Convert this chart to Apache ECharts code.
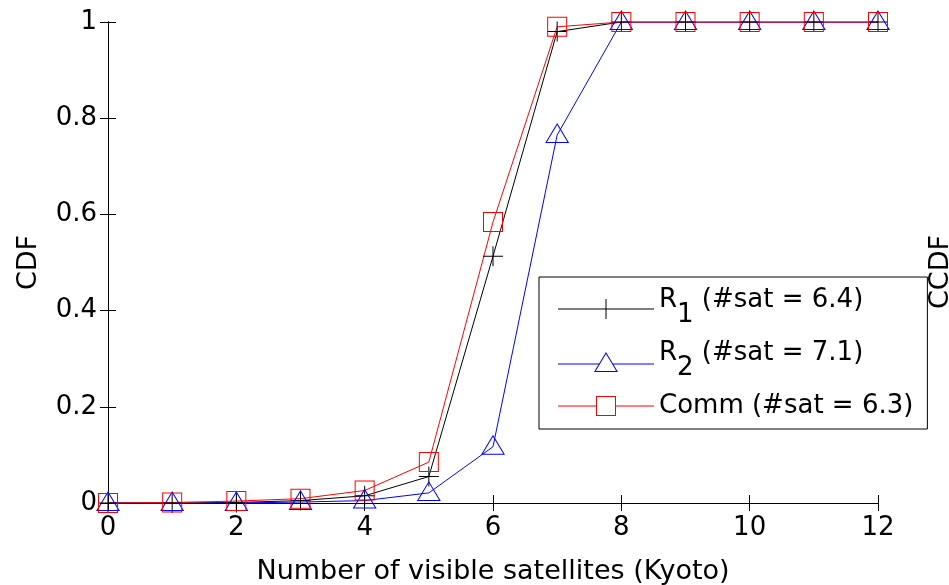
<!DOCTYPE html>
<html>
<head>
<meta charset="utf-8">
<script src="https://cdn.jsdelivr.net/npm/echarts@6/dist/echarts.min.js"></script>
<style>
    html, body { margin: 0; padding: 0; background: #fff; }
    #cdf-chart { width: 949px; height: 585px; }
</style>
</head>
<body>
<div id="cdf-chart"></div>
<script>
// number of visible satellites
var satCounts = [0, 1, 2, 3, 4, 5, 6, 7, 8, 9, 10, 11, 12];
var r1Cdf = [0, 0, 0.001, 0.005, 0.015, 0.055, 0.513, 0.98, 1, 1, 1, 1, 1];
var r2Cdf = [0, 0, 0, 0.002, 0.005, 0.021, 0.117, 0.765, 1, 1, 1, 1, 1];
var commCdf = [0, 0.001, 0.004, 0.009, 0.026, 0.085, 0.584, 0.99, 1, 1, 1, 1, 1];
var seriesBase = ['R', 'R', 'Comm'];
var seriesSub = ['1', '2', ''];
var avgSat = ['6.4', '7.1', '6.3'];
var xTickLabels = ['0', '2', '4', '6', '8', '10', '12'];
var yTickLabels = ['0', '0.2', '0.4', '0.6', '0.8', '1'];

(function() {
    "use strict";
    var font = 'DejaVu Sans';
    var colors = ['#000000', '#0000ff', '#ff0000'];
    // outline-only markers (filled rings so the lines show through)
    var plusPath = 'path://M0,9.5H20V10.5H0Z M9.5,0H10.5V20H9.5Z';
    var triPath = 'path://M12,0L24,20L0,20Z M12,1.94L1.77,19L22.23,19Z';
    var sqPath = 'path://M0,0H20V20H0Z M1,1V19H19V1Z';
    // legend icons: line + marker, line stops at the marker edge
    var legendIcons = [
        'path://M0,9.5H96V10.5H0Z M47.5,0H48.5V20H47.5Z',
        'path://M0,11.5H41V12.5H0Z M55,11.5H96V12.5H55Z M48,0L60,20L36,20Z M48,1.94L37.77,19L58.23,19Z',
        'path://M0,9.5H38V10.5H0Z M58,9.5H96V10.5H58Z M38,0H58V20H38Z M39,1V19H57V1Z'
    ];

    function legendName(i) {
        return seriesBase[i] + seriesSub[i] + ' (#sat = ' + avgSat[i] + ')';
    }

    function pairs(ys) {
        return satCounts.map(function(x, i) { return [x, ys[i]]; });
    }

    var chart = echarts.init(document.getElementById('cdf-chart'));
    var names = [legendName(0), legendName(1), legendName(2)];

    var option = {
        backgroundColor: '#fff',
        animation: false,
        grid: {
            left: 108,
            right: 71,
            top: 22,
            bottom: 82,
            containLabel: false,
            outerBoundsMode: 'none'
        },
        legend: {
            orient: 'vertical',
            left: 539,
            top: 277,
            padding: [10, 14, 10, 19],
            itemGap: 9,
            itemWidth: 96,
            itemHeight: 20,
            borderColor: '#000',
            borderWidth: 1,
            borderRadius: 0,
            backgroundColor: '#fff',
            data: names.map(function(n, i) {
                return {
                    name: n,
                    icon: legendIcons[i],
                    itemStyle: { color: colors[i], borderWidth: 0 }
                };
            }),
            formatter: function(name) {
                var i = names.indexOf(name);
                var tail = ' (#sat = ' + avgSat[i] + ')';
                if (seriesSub[i]) {
                    return '{b|' + seriesBase[i] + '}{s|' + seriesSub[i] + '}{b|' + tail + '}';
                }
                return '{c|' + seriesBase[i] + tail + '}';
            },
            textStyle: {
                color: '#000',
                fontFamily: font,
                fontSize: 26,
                rich: {
                    b: { fontFamily: font, fontSize: 26, color: '#000', lineHeight: 30, padding: [0, 0, 18, 0] },
                    s: { fontFamily: font, fontSize: 26, color: '#000', lineHeight: 30, padding: [15, 0, 3, 0] },
                    c: { fontFamily: font, fontSize: 26, color: '#000', lineHeight: 30 }
                }
            }
        },
        xAxis: [
            {
                type: 'value',
                min: 0,
                max: 12,
                interval: 2,
                name: 'Number of visible satellites (Kyoto)',
                nameLocation: 'middle',
                nameGap: 55,
                nameTextStyle: { fontFamily: font, fontSize: 27, color: '#000' },
                axisLine: { lineStyle: { color: '#000', width: 1 } },
                axisTick: { inside: true, length: 8, lineStyle: { color: '#000' } },
                axisLabel: {
                    fontFamily: font, fontSize: 26, color: '#000', margin: 12,
                    formatter: function(v) { return xTickLabels[v / 2]; }
                },
                splitLine: { show: false }
            },
            {
                type: 'value',
                position: 'top',
                min: 0,
                max: 12,
                interval: 2,
                axisLine: { lineStyle: { color: '#000', width: 1 } },
                axisTick: { inside: true, length: 8, lineStyle: { color: '#000' } },
                axisLabel: { show: false },
                splitLine: { show: false }
            }
        ],
        yAxis: [
            {
                type: 'value',
                min: 0,
                max: 1,
                interval: 0.2,
                name: 'CDF',
                nameLocation: 'middle',
                nameGap: 66,
                nameTextStyle: { fontFamily: font, fontSize: 27, color: '#000' },
                axisLine: { show: true, lineStyle: { color: '#000', width: 1 } },
                axisTick: { show: true, inside: true, length: 8, lineStyle: { color: '#000' } },
                axisLabel: {
                    fontFamily: font, fontSize: 26, color: '#000', margin: 11,
                    formatter: function(v) { return yTickLabels[Math.round(v * 5)]; }
                },
                splitLine: { show: false }
            },
            {
                type: 'value',
                position: 'right',
                min: 0,
                max: 1,
                interval: 0.2,
                axisLine: { show: true, lineStyle: { color: '#000', width: 1 } },
                axisTick: { show: true, inside: true, length: 8, lineStyle: { color: '#000' } },
                axisLabel: { show: false },
                splitLine: { show: false }
            }
        ],
        graphic: [
            {
                type: 'text',
                x: 941,
                y: 272,
                rotation: Math.PI / 2,
                style: {
                    text: 'CCDF',
                    fontFamily: font,
                    fontSize: 27,
                    fill: '#000',
                    align: 'center',
                    verticalAlign: 'middle'
                },
                z: 10
            }
        ],
        series: [
            {
                name: names[0],
                type: 'line',
                data: pairs(r1Cdf),
                symbol: plusPath,
                symbolSize: [20, 20],
                showAllSymbol: true,
                lineStyle: { color: colors[0], width: 1 },
                itemStyle: { color: colors[0] }
            },
            {
                name: names[1],
                type: 'line',
                data: pairs(r2Cdf),
                symbol: triPath,
                symbolSize: [24, 20],
                symbolOffset: [0, -2],
                showAllSymbol: true,
                lineStyle: { color: colors[1], width: 1 },
                itemStyle: { color: colors[1] }
            },
            {
                name: names[2],
                type: 'line',
                data: pairs(commCdf),
                symbol: sqPath,
                symbolSize: [20, 20],
                showAllSymbol: true,
                lineStyle: { color: colors[2], width: 1 },
                itemStyle: { color: colors[2] }
            }
        ]
    };
    chart.setOption(option);
})();
</script>
</body>
</html>
